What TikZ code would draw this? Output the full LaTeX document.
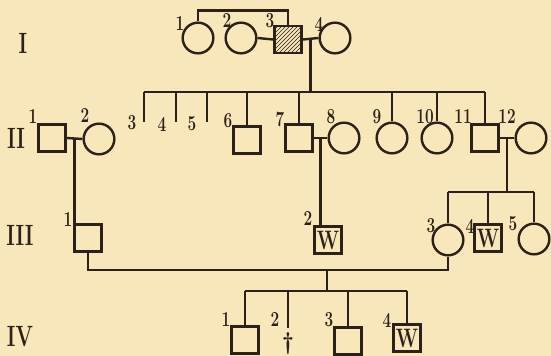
\documentclass[tikz,border=0pt]{standalone}
\usepackage{xcolor}
\usepackage{tikz}
\usetikzlibrary{positioning,patterns,calc}
\definecolor{PaperCream}{HTML}{F8E7BA}
\definecolor{InkBrown}{HTML}{2B2118}

\begin{document}
\begin{tikzpicture}[
  x=0.75pt, y=-0.75pt,
  male/.style={draw=InkBrown, line width=1.8pt, rectangle, minimum size=20.5pt, inner sep=0pt},
  female/.style={draw=InkBrown, line width=1.8pt, circle, minimum size=23pt, inner sep=0pt},
  affected/.style={male, pattern=north east lines, pattern color=InkBrown},
  carrier/.style={male, text=InkBrown, font=\fontsize{20}{20}\selectfont\bfseries},
  num/.style={text=InkBrown, font=\fontsize{16}{16}\selectfont\bfseries, xscale=0.72, inner sep=0pt},
  gen/.style={text=InkBrown, font=\fontsize{22}{22}\selectfont\bfseries, xscale=0.7, inner sep=0pt},
  link/.style={draw=InkBrown, line width=1.8pt}
]
\useasboundingbox (0,0) rectangle (551,356);
\fill[PaperCream] (0,0) rectangle (551,356);

% generation labels
\node[gen] (genI) at (23,43) {I};
\node[gen] (genII) at (16,138) {II};
\node[gen] (genIII) at (20,235) {III};
\node[gen] (genIV) at (20,337) {IV};

% generation I
\node[female] (i1) at (198,38) {};
\node[female] (i2) at (241,38) {};
\node[affected] (i3) at (288,39.5) {};
\node[female] (i4) at (335,38) {};
\foreach \n/\x/\y in {1/180/24, 2/227/21, 3/270/21, 4/319/24}
  \node[num] (nI\n) at (\x,\y) {\n};

\draw[link] (i1.north) -- ++(0,-11) -| (i3.north);
\draw[link] (i2.east) -- (i3.west);
\draw[link] (i3.east) -- coordinate (m34) (i4.west);

% generation II
\node[male] (ii1) at (52,138) {};
\node[female] (ii2) at (99,139) {};
\coordinate (ii3) at (144,122);
\coordinate (ii4) at (176,122);
\coordinate (ii5) at (207,122);
\node[male] (ii6) at (247,140) {};
\node[male] (ii7) at (299,138) {};
\node[female] (ii8) at (344,138) {};
\node[female] (ii9) at (392,138) {};
\node[female] (ii10) at (437,138) {};
\node[male] (ii11) at (485,138) {};
\node[female] (ii12) at (531,138) {};
\foreach \n/\x/\y in {1/33/117, 2/85/116, 3/132/123, 4/162/124, 5/192/124, 6/228/121,
    7/280/119, 8/331/117, 9/377/117, 10/425/117, 11/463/117, 12/507/117}
  \node[num] (nII\n) at (\x,\y) {\n};

\coordinate (sib2l) at (144,92);
\draw[link] (m34) -- (m34 |- sib2l);
\draw[link] (sib2l) -- (ii11 |- sib2l);
\foreach \p in {ii3,ii4,ii5}
  \draw[link] (\p |- sib2l) -- (\p);
\foreach \p in {ii6,ii7,ii9,ii10,ii11}
  \draw[link] (\p |- sib2l) -- (\p.north);
\draw[link] (ii1.east) -- coordinate (m12) (ii2.west);
\draw[link] (ii7.east) -- coordinate (m78) (ii8.west);
\draw[link] (ii11.east) -- coordinate (m1112) (ii12.west);

% generation III
\node[male] (iii1) at (88,238) {};
\node[carrier] (iii2) at (328,240) {\scalebox{0.72}[1]{W}};
\node[female] (iii3) at (448,240) {};
\node[carrier] (iii4) at (488,238) {\scalebox{0.72}[1]{W}};
\node[female] (iii5) at (534,239) {};
\foreach \n/\x/\y in {1/68/220, 2/308/219, 3/431/226, 4/470/226, 5/513/224}
  \node[num] (nIII\n) at (\x,\y) {\n};

\coordinate (sib3l) at (448,192);
\draw[link] (m12) -- (m12 |- iii1.north);
\draw[link] (m78) -- (m78 |- iii2.north);
\draw[link] (m1112) -- (m1112 |- sib3l);
\draw[link] (sib3l) -- (iii5 |- sib3l);
\foreach \p in {iii3,iii4,iii5}
  \draw[link] (\p |- sib3l) -- (\p.north);

% generation IV
\node[male] (iv1) at (245,340) {};
\coordinate (iv2) at (288,328);
\node[text=InkBrown, font=\fontsize{18}{18}\selectfont\bfseries, inner sep=0pt, anchor=south] (dag) at (288,355) {\textdagger};
\node[male] (iv3) at (348,341) {};
\node[carrier] (iv4) at (407,338) {\scalebox{0.72}[1]{W}};
\foreach \n/\x/\y in {1/226/320, 2/275/320, 3/329/320, 4/387/320}
  \node[num] (nIV\n) at (\x,\y) {\n};

\coordinate (m13) at (327,270);
\coordinate (sib4l) at (245,291);
\draw[link] (iii1.south) |- (m13) -| (iii3.south);
\draw[link] (m13) -- (m13 |- sib4l);
\draw[link] (sib4l) -- (iv4 |- sib4l);
\draw[link] (iv2 |- sib4l) -- (iv2);
\foreach \p in {iv1,iv3,iv4}
  \draw[link] (\p |- sib4l) -- (\p.north);
\end{tikzpicture}
\end{document}
